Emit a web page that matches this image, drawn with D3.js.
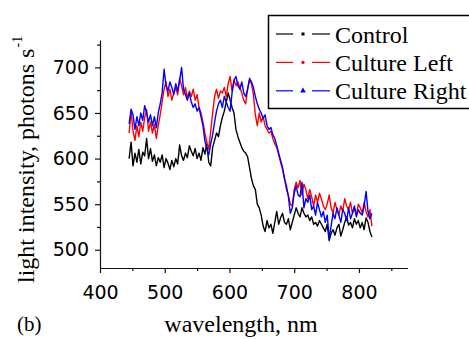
<!DOCTYPE html>
<html>
<head>
<meta charset="utf-8">
<script src="https://cdn.jsdelivr.net/npm/d3@7"></script>
<style>
  html, body { margin: 0; padding: 0; background: #fff; }
  svg { display: block; }
</style>
</head>
<body>
<svg id="spectrum-chart"></svg>
<script>
// wavelength grid (nm), every ~3 nm
const wavelength = [
  445,448,451,454,457,460,463,466,469,472,
  475,478,481,484,487,490,493,496,499,502,
  505,508,511,514,517,520,523,526,529,532,
  535,538,541,544,547,550,553,556,559,562,
  565,568,571,574,577,580,583,586,589,592,
  595,598,601,604,607,610,613,616,619,622,
  625,628,631,634,637,640,643,646,649,652,
  655,658,661,664,667,670,673,676,679,682,
  685,688,691,694,697,700,703,706,709,712,
  715,718,721,724,727,730,733,736,739,742,
  745,748,751,754,757,760,763,766,769,772,
  775,778,781,784,787,790,793,796,799,802,
  805,808,811,814,817,820
];

const control = [
  600,618,592,606,596,610,594,607,603,622,
  600,611,597,604,592,601,596,604,590,600,
  595,588,598,591,600,594,615,603,598,606,
  601,614,608,603,611,600,606,598,612,605,
  616,596,592,612,620,628,624,636,645,652,
  662,672,664,656,650,632,624,618,612,608,
  606,602,590,578,570,566,550,546,538,526,
  520,532,524,528,518,530,542,528,535,540,
  530,528,534,522,530,538,546,540,536,546,
  540,536,538,532,536,528,530,526,532,528,
  524,520,528,510,518,522,516,524,528,515,
  522,530,536,527,530,524,534,528,532,524,
  530,522,535,530,520,514
];

const cultureLeft = [
  628,652,630,620,636,624,640,630,645,654,
  630,640,628,638,622,636,648,662,676,684,
  668,676,664,672,678,670,688,680,670,678,
  666,674,668,676,664,670,656,650,640,628,
  618,610,630,650,668,676,666,674,672,678,
  668,682,690,674,686,680,684,678,672,664,
  660,676,686,682,670,648,636,650,640,646,
  636,632,628,630,622,616,612,604,596,588,
  578,566,560,550,548,566,574,568,576,560,
  572,566,556,566,558,548,560,552,562,556,
  548,544,550,560,546,540,552,544,538,548,
  542,556,548,544,552,540,546,538,550,546,
  540,552,542,536,544,526
];

const cultureRight = [
  638,654,648,632,646,636,650,642,658,650,
  640,648,636,646,634,650,660,672,698,680,
  674,684,678,670,682,674,686,700,676,670,
  664,672,662,656,660,652,656,646,636,620,
  610,604,616,626,640,652,660,664,656,668,
  662,656,652,672,686,690,680,676,684,672,
  668,676,688,684,678,668,660,654,650,644,
  648,636,632,634,626,622,614,606,598,590,
  578,570,558,540,546,562,570,560,558,574,
  546,556,552,560,544,548,538,552,544,536,
  542,530,538,512,526,540,534,546,538,530,
  544,540,532,546,534,540,548,536,544,540,
  538,548,564,542,534,540
];

const seriesNames = ['Control', 'Culture Left', 'Culture Right'];
const seriesColors = ['#000000', '#ff0000', '#0000ff'];
const seriesMarkers = ['square', 'circle', 'triangle'];

const xTicks = [400, 500, 600, 700, 800];
const xMinorTicks = [450, 550, 650, 750, 850];
const yTicks = [500, 550, 600, 650, 700];
const yMinorTicks = [525, 575, 625, 675, 725];

const W = 469, H = 339;
const plot = { left: 100, right: 407.5, top: 40, bottom: 268 };

const svg = d3.select('#spectrum-chart')
  .attr('width', W)
  .attr('height', H);

const x = d3.scaleLinear().domain([400, 875]).range([plot.left, plot.right]);
const y = d3.scaleLinear().domain([480, 730]).range([plot.bottom, plot.top]);

// series lines
const line = d3.line()
  .x(d => x(d.w))
  .y(d => y(d.v));

[control, cultureLeft, cultureRight].forEach((vals, i) => {
  const pts = wavelength.map((w, j) => ({ w: w, v: vals[j] })).filter(d => d.v != null);
  svg.append('path')
    .datum(pts)
    .attr('fill', 'none')
    .attr('stroke', seriesColors[i])
    .attr('stroke-width', 1.4)
    .attr('stroke-linejoin', 'round')
    .attr('d', line);
});

// axes
const xAxis = svg.append('g')
  .attr('transform', `translate(0,${plot.bottom})`)
  .call(d3.axisBottom(x).tickValues(xTicks).tickSize(5).tickSizeOuter(0).tickPadding(13));

svg.append('g')
  .attr('transform', `translate(0,${plot.bottom})`)
  .call(d3.axisBottom(x).tickValues(xMinorTicks).tickSize(3).tickFormat(''))
  .call(g => g.select('.domain').remove());

const yAxis = svg.append('g')
  .attr('transform', `translate(${plot.left},0)`)
  .call(d3.axisLeft(y).tickValues(yTicks).tickSize(5).tickSizeOuter(0).tickPadding(6));

svg.append('g')
  .attr('transform', `translate(${plot.left},0)`)
  .call(d3.axisLeft(y).tickValues(yMinorTicks).tickSize(3).tickFormat(''))
  .call(g => g.select('.domain').remove());

svg.selectAll('.domain, .tick line')
  .attr('stroke', '#111')
  .attr('stroke-width', 1.2);

[xAxis, yAxis].forEach(a => {
  a.selectAll('text')
    .style('font-family', '"DejaVu Sans", sans-serif')
    .style('font-size', '19px')
    .attr('fill', '#000');
});

// axis titles
svg.append('text')
  .attr('x', 241)
  .attr('y', 332)
  .attr('text-anchor', 'middle')
  .style('font-family', '"Liberation Serif", "Times New Roman", serif')
  .style('font-size', '24px')
  .text('wavelength, nm');

svg.append('text')
  .attr('x', 17)
  .attr('y', 331)
  .style('font-family', '"Liberation Serif", "Times New Roman", serif')
  .style('font-size', '21px')
  .text('(b)');

const yTitle = svg.append('text')
  .attr('transform', 'translate(33.5,283) rotate(-90)')
  .style('font-family', '"Liberation Serif", "Times New Roman", serif')
  .style('font-size', '24px');
yTitle.append('tspan').text('light intensity, photons s');
yTitle.append('tspan')
  .attr('dx', 1)
  .attr('dy', -12)
  .style('font-size', '14px')
  .text('-1');

// legend
const legend = svg.append('g');
legend.append('rect')
  .attr('x', 268.5)
  .attr('y', 15.5)
  .attr('width', 220)
  .attr('height', 93)
  .attr('fill', '#fff')
  .attr('stroke', '#000')
  .attr('stroke-width', 1.5);

seriesNames.forEach((name, i) => {
  const cy = 34 + i * 28.4;
  const col = seriesColors[i];
  legend.append('line')
    .attr('x1', 276).attr('x2', 293).attr('y1', cy).attr('y2', cy)
    .attr('stroke', col).attr('stroke-width', 1.2);
  legend.append('line')
    .attr('x1', 312).attr('x2', 330).attr('y1', cy).attr('y2', cy)
    .attr('stroke', col).attr('stroke-width', 1.2);
  const sym = seriesMarkers[i] === 'square' ? d3.symbolSquare
    : seriesMarkers[i] === 'circle' ? d3.symbolCircle : d3.symbolTriangle;
  legend.append('path')
    .attr('transform', `translate(303,${cy})`)
    .attr('d', d3.symbol().type(sym).size(seriesMarkers[i] === 'triangle' ? 14 : 9)())
    .attr('fill', col);
  legend.append('text')
    .attr('x', 335)
    .attr('y', cy + 8.5)
    .style('font-family', '"Liberation Serif", "Times New Roman", serif')
    .style('font-size', '24px')
    .text(name);
});
</script>
</body>
</html>
